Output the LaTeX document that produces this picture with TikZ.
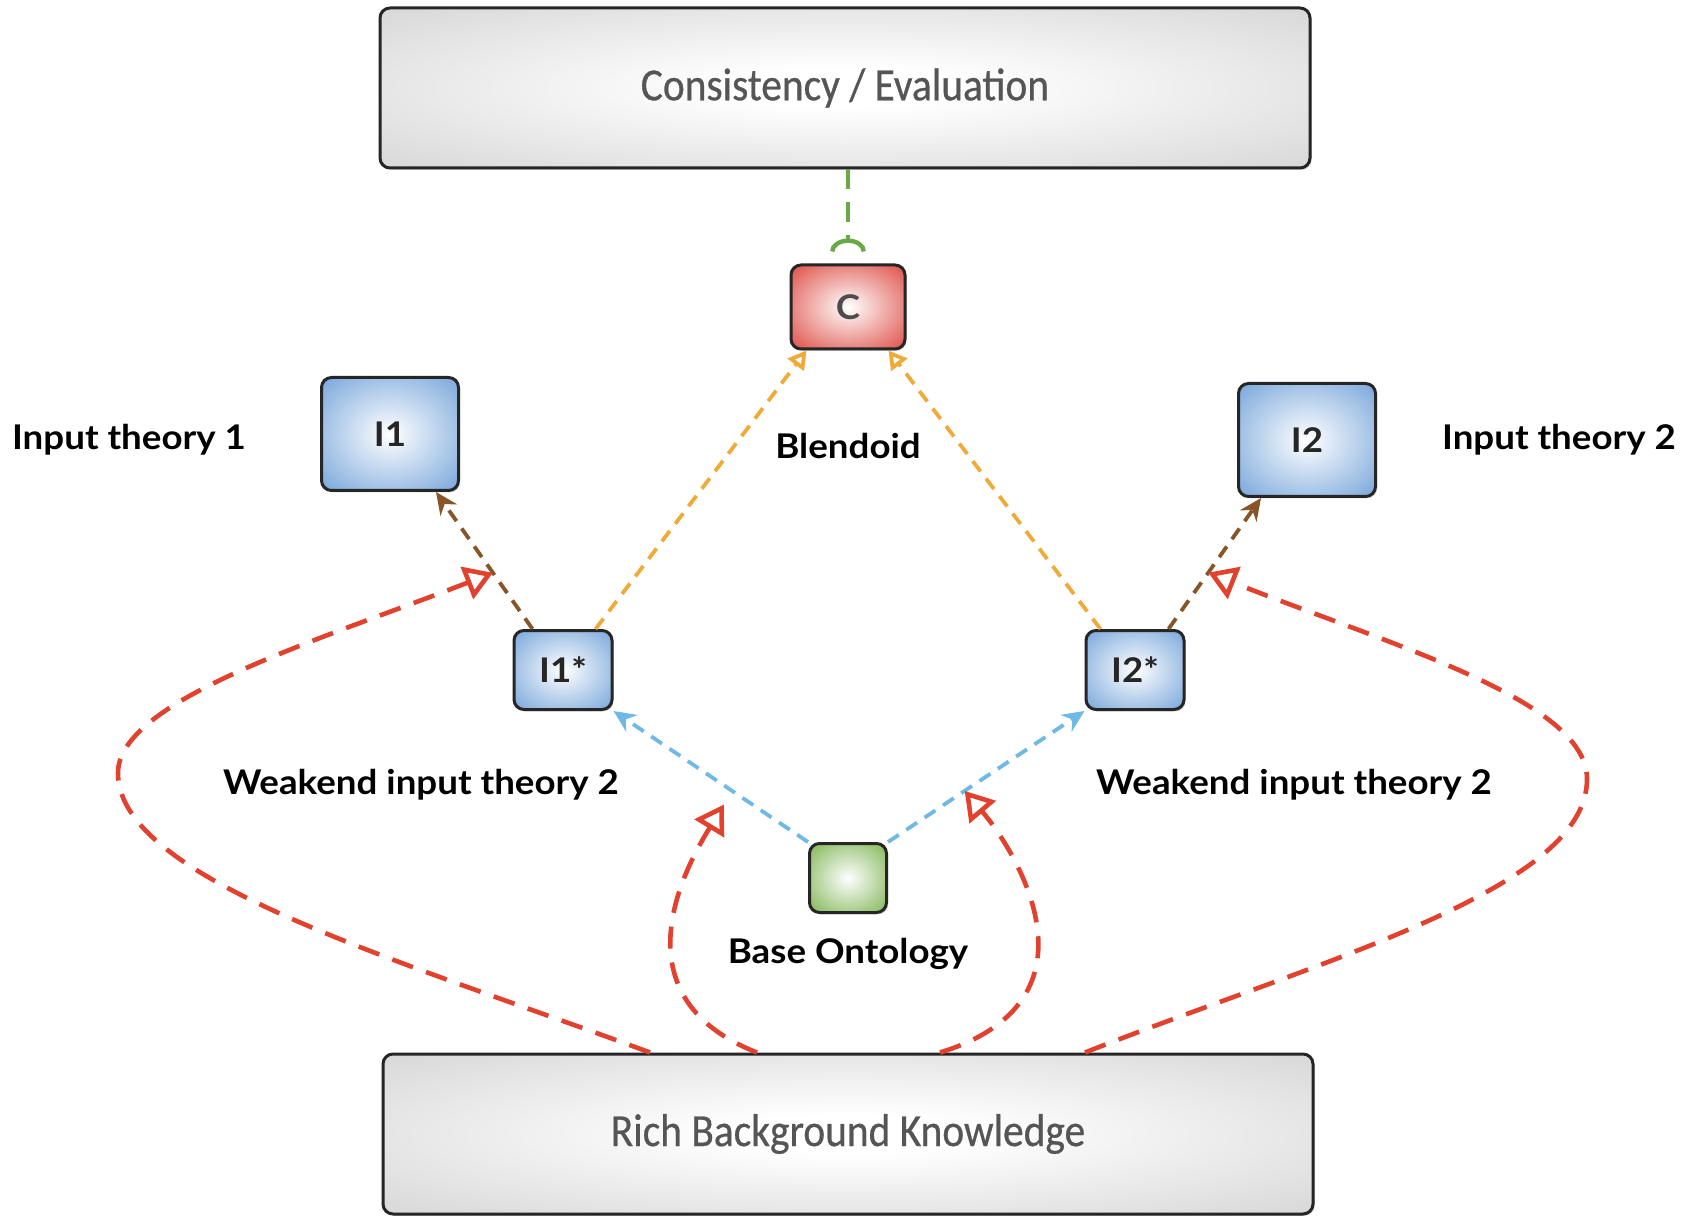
\documentclass[tikz,border=0pt]{standalone}
\usepackage{fontspec}
\setmainfont{Lato}
\newfontfamily\boxfont[FakeStretch=0.9, FakeBold=0.6]{Carlito}
\newfontfamily\lblfont[FakeStretch=1.08]{Lato}
\definecolor{orange1}{RGB}{240, 170, 55}
\definecolor{brown1}{RGB}{135, 85, 40}
\definecolor{blue1}{RGB}{110, 185, 230}
\definecolor{red1}{RGB}{225, 65, 45}
\definecolor{green1}{RGB}{105, 170, 70}
\definecolor{grey1}{RGB}{196, 196, 196}
\definecolor{greytext}{RGB}{85, 85, 85}
\definecolor{boxblue}{RGB}{95, 150, 212}
\definecolor{boxred}{RGB}{215, 45, 35}
\definecolor{boxgreen}{RGB}{105, 168, 55}
\usepackage{tikz}
\usetikzlibrary{arrows.meta, calc, shadows}

\pgfdeclareradialshading{greyglow}{\pgfpoint{0bp}{0bp}}{color(0bp)=(white); color(6bp)=(white); color(50bp)=(grey1); color(72bp)=(grey1)}
\pgfdeclareradialshading{blueglow}{\pgfpoint{0bp}{0bp}}{color(0bp)=(white); color(42bp)=(boxblue); color(72bp)=(boxblue)}
\pgfdeclareradialshading{redglow}{\pgfpoint{0bp}{0bp}}{color(0bp)=(white); color(42bp)=(boxred); color(72bp)=(boxred)}
\pgfdeclareradialshading{greenglow}{\pgfpoint{0bp}{0bp}}{color(0bp)=(white); color(42bp)=(boxgreen); color(72bp)=(boxgreen)}

\tikzset{
  box/.style={draw=black!85, line width=1.5pt, rounded corners=5pt, shade, inner sep=0pt,
    drop shadow={opacity=0.35, shadow xshift=0.8pt, shadow yshift=-0.9pt}},
  bigbox/.style={box, shading=greyglow, minimum width=465pt, minimum height=80pt,
    font=\boxfont\fontsize{23}{26}\selectfont, text=greytext},
  theorybox/.style={box, shading=blueglow, font=\lblfont\bfseries\fontsize{17}{20}\selectfont, text=black!85},
  lbl/.style={font=\lblfont\bfseries\fontsize{17}{20}\selectfont},
  link/.style={line width=1.9pt, dash pattern=on 6.5pt off 4.5pt},
  redlink/.style={red1, line width=2.3pt, dash pattern=on 11pt off 7pt, -{Triangle[open, length=14pt, width=17pt]}}
}

\begin{document}
\begin{tikzpicture}[x=0.5pt, y=-0.5pt]
  \useasboundingbox (0,0) rectangle (1684,1218);

  % boxes
  \node[bigbox] (eval) at (845,88) {Consistency / Evaluation};
  \node[bigbox] (rich) at (848,1134) {Rich Background Knowledge};
  \node[box, shading=redglow, minimum width=57pt, minimum height=42pt,
    font=\lblfont\bfseries\fontsize{17}{20}\selectfont, text=black!70] (C) at (848,307) {C};
  \node[theorybox, minimum width=68.5pt, minimum height=56.5pt] (I1) at (390,434) {I1};
  \node[theorybox, minimum width=68.5pt, minimum height=56.5pt] (I2) at (1307,440) {I2};
  \node[theorybox, minimum width=49pt, minimum height=39.5pt] (I1s) at (563,670) {I1*};
  \node[theorybox, minimum width=49pt, minimum height=39.5pt] (I2s) at (1135,670) {I2*};
  \node[box, shading=greenglow, minimum width=38.5pt, minimum height=34.5pt] (base) at (848,878) {};

  % labels
  \node[lbl] (in1lbl) at (129,440) {Input theory 1};
  \node[lbl] (in2lbl) at (1559,440) {Input theory 2};
  \node[lbl] (blendlbl) at (848,446) {Blendoid};
  \node[lbl] (weak1lbl) at (421,785) {Weakend input theory 2};
  \node[lbl] (weak2lbl) at (1294,785) {Weakend input theory 2};
  \node[lbl] (baselbl) at (848,954) {Base Ontology};

  % connectors
  \draw[link, green1, line width=2.2pt, dash pattern=on 10pt off 6.5pt,
    -{Arc Barb[reversed, width=18pt, length=6.5pt]}, shorten >=6pt] (eval.south -| C.north) -- (C.north);
  \draw[link, orange1, -{Triangle[open, length=9pt, width=10pt]}] ([xshift=-9pt]I1s.north east) -- ([xshift=8.5pt]C.south west);
  \draw[link, orange1, -{Triangle[open, length=9pt, width=10pt]}] ([xshift=8pt]I2s.north west) -- ([xshift=-9pt]C.south east);
  \draw[link, brown1, -{Stealth[length=11pt, width=10pt]}] ([xshift=10pt]I1s.north west) -- coordinate[pos=0.41] (w1) ([xshift=-12pt]I1.south east);
  \draw[link, brown1, -{Stealth[length=11pt, width=10pt]}] ([xshift=-8.5pt]I2s.north east) -- coordinate[pos=0.43] (w2) ([xshift=12pt]I2.south west);
  \draw[link, blue1, -{Stealth[length=11pt, width=10pt]}] (base.north west) -- coordinate[pos=0.39] (b1) (I1s.south east);
  \draw[link, blue1, -{Stealth[length=11pt, width=10pt]}] (base.north east) -- coordinate[pos=0.39] (b2) (I2s.south west);

  \draw[redlink] ([xshift=-99pt]rich.north) .. controls (400,960) and (118,880) .. (118,773)
    .. controls (118,700) and (320,640) .. (w1);
  \draw[redlink, shorten >=8pt] ([xshift=-45.5pt]rich.north) .. controls (610,995) and (690,860) .. (b1);
  \draw[redlink] ([xshift=46pt]rich.north) .. controls (1110,1000) and (1015,850) .. (b2);
  \draw[redlink] ([xshift=118.5pt]rich.north) .. controls (1320,960) and (1587,890) .. (1587,779)
    .. controls (1587,700) and (1390,645) .. (w2);
\end{tikzpicture}
\end{document}
